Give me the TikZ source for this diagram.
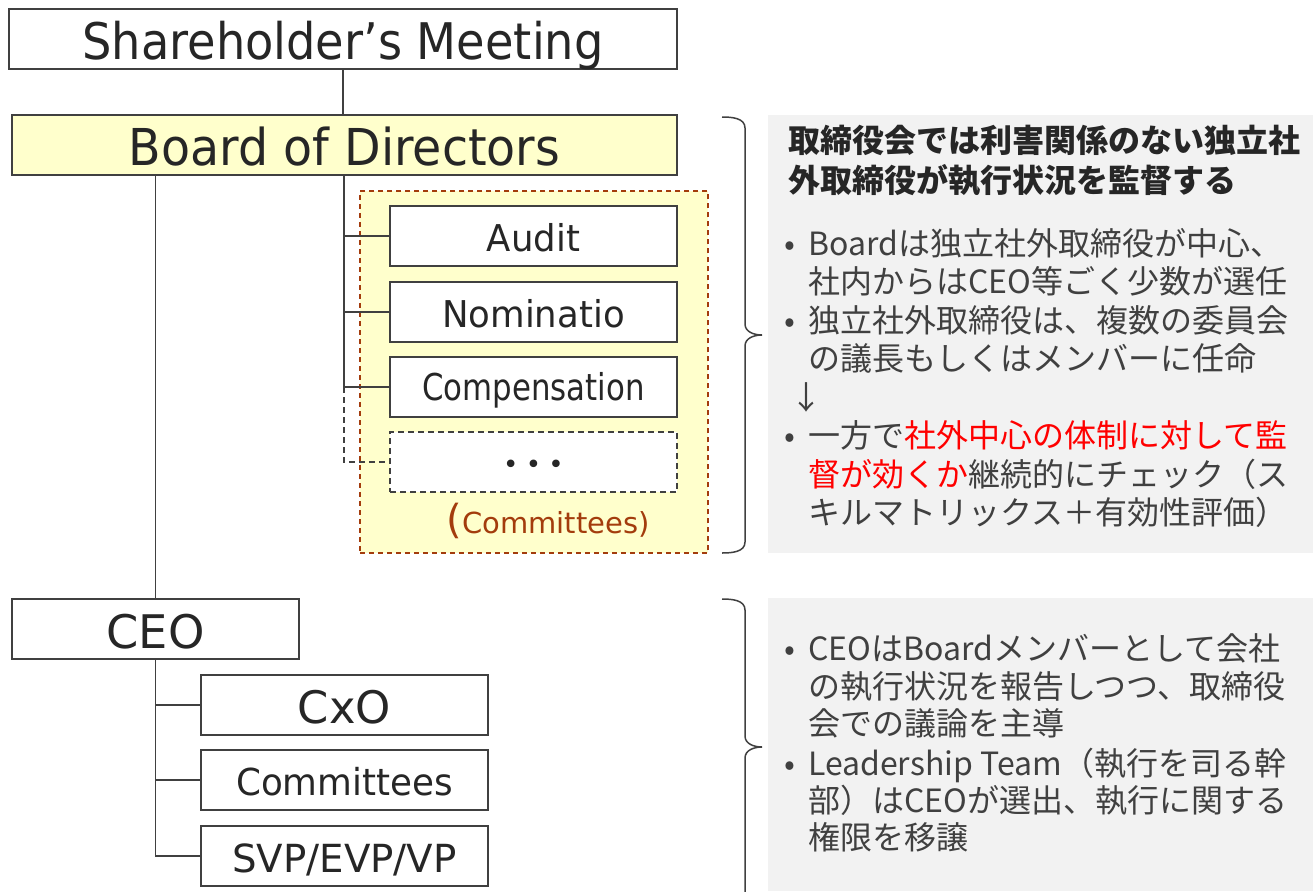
\documentclass[tikz,border=0pt]{standalone}
\usepackage{graphicx}
\usepackage{fontspec}
\setmainfont{DejaVu Sans}
\newfontfamily\jp{Noto Sans CJK JP}
\newcommand\ysc[2]{\scalebox{1}[#1]{#2}}
\definecolor{boxline}{HTML}{404040}
\definecolor{txt}{HTML}{262626}
\definecolor{rtxt}{HTML}{404040}
\definecolor{yel}{HTML}{FFFFCC}
\definecolor{brown}{HTML}{A33C0C}
\definecolor{panel}{HTML}{F2F2F2}
\definecolor{redt}{HTML}{FF0000}
\tikzset{
  orgbox/.style={draw=boxline, line width=1.5pt, fill=white, inner sep=0pt, text=txt,
    minimum width=287pt, minimum height=60pt, text depth=0pt},
  conn/.style={draw=boxline, line width=1.5pt},
  dconn/.style={draw=boxline, line width=1.2pt, dash pattern=on 6pt off 4pt},
  jline/.style={anchor=base west, inner sep=0pt, text=rtxt, font=\jp\fontsize{32}{38}\selectfont},
  jhead/.style={anchor=base west, inner sep=0pt, text=txt, font=\jp\bfseries\fontsize{32}{38}\selectfont},
  brace/.style={draw=boxline, line width=1.5pt}
}
\begin{document}
\begin{tikzpicture}[x=1pt,y=-1pt]
\useasboundingbox (0,0) rectangle (1313,891);
% panels
\fill[panel] (768,115) rectangle (1313,553);
\fill[panel] (768,598) rectangle (1313,891);
% committees region
\node[draw=brown, fill=yel, line width=1.2pt, dash pattern=on 5pt off 4pt, minimum width=348pt, minimum height=362pt, inner sep=0pt] (creg) at (534,372) {};
% boxes
\node[orgbox, minimum width=668pt, text height=41pt, font=\fontsize{46.3}{50}\selectfont] (sh) at (343,39) {\ysc{1.09}{Shareholder’s Meeting}};
\node[orgbox, fill=yel, minimum width=665pt, text height=41pt, font=\fontsize{47.5}{50}\selectfont] (bd) at (344.5,145) {\ysc{1.07}{Board of Directors}};
\node[orgbox, text height=31pt, font=\fontsize{35.5}{40}\selectfont] (audit) at (533.5,236) {\ysc{1.04}{Audit}};
\node[orgbox, text height=31pt, font=\fontsize{35.5}{40}\selectfont] (nom) at (533.5,312) {\ysc{1.04}{Nominatio}};
\node[orgbox, text height=26pt, font=\fontsize{30.8}{34}\selectfont] (comp) at (533.5,387) {\ysc{1.2}{Compensation}};
\node[orgbox, dash pattern=on 6pt off 4pt, line width=1.2pt, text height=22pt, font=\fontsize{26}{30}\selectfont] (dots) at (533.5,462) {•\hspace{0.28em}•\hspace{0.28em}•};
\node[anchor=base, inner sep=0pt, text=brown] (cl) at (548,533) {{\fontsize{40}{44}\selectfont(}{\fontsize{29}{32}\selectfont Committees)}};
\node[orgbox, text height=38pt, font=\fontsize{46.3}{50}\selectfont] (ceo) at (155.5,629) {CEO};
\node[orgbox, text height=36pt, font=\fontsize{44.8}{50}\selectfont] (cxo) at (344.5,705) {CxO};
\node[orgbox, text height=30pt, font=\fontsize{35.7}{40}\selectfont] (ecom) at (344.5,780) {\ysc{1.04}{Committees}};
\node[orgbox, text height=32pt, font=\fontsize{38.7}{42}\selectfont] (svp) at (344.5,856) {SVP/EVP/VP};
% connectors
\draw[conn] (sh.south) -- (sh.south |- bd.north);
\draw[conn] (ceo.north) -- (ceo.north |- bd.south);
\coordinate (trunk) at (344,175);
\draw[conn] (trunk) |- (audit.west);
\draw[conn] (trunk) |- (nom.west);
\draw[conn] (trunk) |- (comp.west);
\draw[dconn] (trunk |- comp.west) |- (dots.west);
\coordinate (etrunk) at (155.5,659);
\draw[conn] (etrunk) |- (cxo.west);
\draw[conn] (etrunk) |- (ecom.west);
\draw[conn] (etrunk) |- (svp.west);
% braces
\draw[brace] (722,117) to[out=0,in=90] (745,128) -- (745,324) to[out=-90,in=180] (762,335) to[out=180,in=90] (745,346) -- (745,542) to[out=-90,in=0] (722,553);
\draw[brace] (722,599) to[out=0,in=90] (745,610) -- (745,736) to[out=-90,in=180] (762,747) to[out=180,in=90] (745,758) -- (745,895);
% panel 1 text
\node[jhead] (h1) at (788,152) {取締役会では利害関係のない独立社};
\node[jhead] (h2) at (788,192) {外取締役が執行状況を監督する};
\node[jline] (b1) at (784,255) {•};
\node[jline] (t1a) at (808,255) {Boardは独立社外取締役が中心、};
\node[jline] (t1b) at (808,293.5) {社内からはCEO等ごく少数が選任};
\node[jline] (b2) at (784,332) {•};
\node[jline] (t2a) at (808,332) {独立社外取締役は、複数の委員会};
\node[jline] (t2b) at (808,370.5) {の議長もしくはメンバーに任命};
\node[jline] (arr) at (790,409) {↓};
\node[jline] (b3) at (784,447.5) {•};
\node[jline] (t3a) at (808,447.5) {一方で\textcolor{redt}{社外中心の体制に対して監}};
\node[jline] (t3b) at (808,486) {\textcolor{redt}{督が効くか}継続的にチェック（ス};
\node[jline] (t3c) at (808,524.5) {キルマトリックス＋有効性評価）};
% panel 2 text
\node[jline] (b4) at (784,660) {•};
\node[jline] (t4a) at (808,660) {CEOはBoardメンバーとして会社};
\node[jline] (t4b) at (808,698) {の執行状況を報告しつつ、取締役};
\node[jline] (t4c) at (808,735) {会での議論を主導};
\node[jline] (b5) at (784,775) {•};
\node[jline] (t5a) at (808,775) {Leadership Team（執行を司る幹};
\node[jline] (t5b) at (808,812) {部）はCEOが選出、執行に関する};
\node[jline] (t5c) at (808,849) {権限を移譲};
\end{tikzpicture}
\end{document}
